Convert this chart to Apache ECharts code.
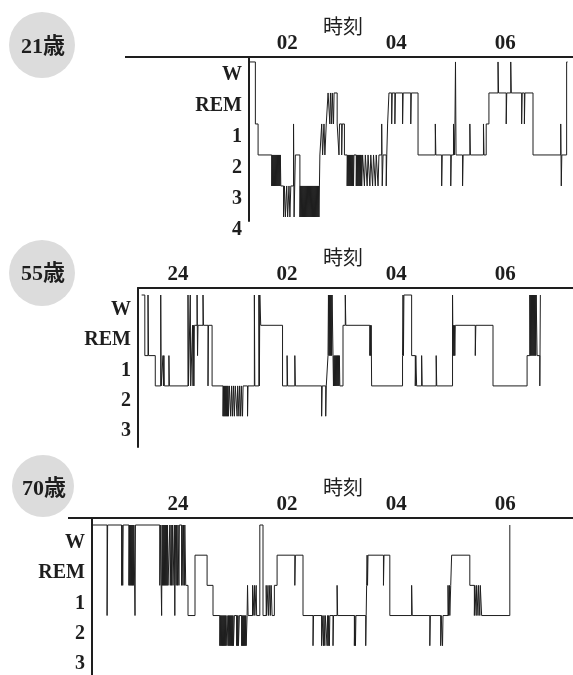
<!DOCTYPE html>
<html>
<head>
<meta charset="utf-8">
<title>睡眠経過図</title>
<script src="https://cdn.jsdelivr.net/npm/echarts@6/dist/echarts.min.js"></script>
<style>
  html, body {margin: 0; padding: 0; background: #fff;}
  #main {width: 573px; height: 675px;}
</style>
</head>
<body>
<div id="main"></div>
<script>
// 時刻は 0時からの分 (負 = 24時前)、段階は 0=W 1=REM 2=1 3=2 4=3 5=4
var xTicks = [0, 120, 240, 360];
var xTickLabels = ["24", "02", "04", "06"];
var stageLabels21 = ["W", "REM", "1", "2", "3", "4"];
var stageLabels = ["W", "REM", "1", "2", "3"];
var ages = ["21歳", "55歳", "70歳"];

var hyp21 = [
  [79,0],[85,2],[88,3],
  [103,4],[103.5,3],[104,4],[104.5,3],[105,4],[105.5,3],[106,4],[106.5,3],[107,4],[107.5,3],[108,4],[108.5,3],
  [109,4],[109.5,3],[110,4],[110.5,3],[111,4],[111.5,3],[112,4],[112.5,3],[113,4],
  [116,5],[117,4],[118,5],[119.5,4],[120.5,5],[122,4],[123,5],[124,4],
  [127,2],[127.6,5],[129,3],
  [134,5],[134.5,4],[135,5],[135.5,4],[136,5],[136.5,4],[137,5],[137.5,4],[138,5],[138.5,4],[139,5],[139.5,4],
  [140,5],[140.5,4],[141,5],[141.5,4],[142,5],[142.5,4],[143,5],[143.5,4],[144,5],[144.5,4],[145,5],[145.5,4],
  [146,5],[146.5,4],[147,5],[147.5,4],[148,5],[148.5,4],[149,5],[149.5,4],[150,5],[150.5,4],[151,5],[151.5,4],
  [152,5],[152.5,4],[153,5],[153.5,4],[154,5],[154.5,4],[155,5],[155.5,4],
  [156,3],[158,2],[159,3],[160.5,2],[161.5,3],[163,2],
  [165,1],[167,2],[167.6,1],[169,2],[169.6,1],[171,2],[171.6,1],
  [175,2],[177,3],[177.6,2],[180,3],[180.6,2],[183,3],
  [186,4],[186.5,3],[187,4],[187.5,3],[188,4],[188.5,3],[189,4],[189.5,3],[190,4],[190.5,3],[191,4],[191.5,3],
  [192,4],[192.5,3],[193,4],[193.5,3],
  [196,4],[196.5,3],[197,4],[197.5,3],[198,4],[198.5,3],[199,4],[199.5,3],[200,4],[200.5,3],[201,4],[201.5,3],
  [202,4],[203,3],
  [205,4],[206,3],[208,4],[209,3],[211,4],[212,3],[214,4],[215,3],[217,4],[218,3],[220,4],[221,3],
  [224,2],[224.6,4],[225.5,3],[229,4],[229.6,3],[230.5,2],
  [232,1],[235,2],[235.6,1],[238.5,2],[239.1,1],[247,2],[247.6,1],[256,2],[256.6,1],
  [264,3],[283,2],[283.6,3],[290,4],[290.6,3],[300,4],[300.6,3],
  [303,2],[304,3],[304.6,2],[305.2,0],[305.8,3],[313,4],[313.6,3],[321,2],[321.6,3],
  [336,2],[336.6,3],[339,2],
  [342,1],[352,0],[352.6,1],[361,2],[361.6,1],[366,0],[366.6,1],[378,2],[378.6,1],[381,2],[381.6,1],
  [390.5,3],[421,2],[421.6,4],[422.2,3],[427.5,0],[428.5,0]
];

var hyp55 = [
  [-40,0],[-36.5,2],[-33,0],[-32.4,2],[-25,3],
  [-19,0],[-18.5,3],[-16.5,2],[-16,3],[-15.5,2],[-15,3],[-10,2],[-9.5,3],
  [11,0],[11.5,3],[13.5,0],[14,3],[16,1],[16.5,3],[17,1],[17.5,3],[18,1],
  [21,0],[21.5,2],[22,1],[27.5,0],[28,1],[33,3],[33.5,1],[37.5,3],
  [49.5,4],[50,3],[50.5,4],[51,3],[51.5,4],[52,3],[52.5,4],[53,3],[53.5,4],[54,3],[54.5,4],[55,3],[55.5,4],[56.5,3],
  [58,4],[59,3],[60,4],[61,3],[62,4],[63,3],
  [65,4],[65.6,3],[67,4],[67.6,3],[69,4],[69.6,3],[71,4],[71.6,3],[76.5,4],[77,3],
  [84,0],[84.5,3],[89,0],[89.5,3],[90,0],
  [91,1],[115,3],[120,2],[120.6,3],[128.5,2],[129.1,3],
  [158,4],[158.6,3],[162.5,4],[163.1,3],
  [165,2],[165.5,0],[166,2],[166.5,0],[167,2],[167.5,0],[168,2],[168.5,0],[169,2],[169.5,0],
  [170.5,2],[171,3],[171.5,2],[172,3],[172.5,2],[173,3],[173.5,2],[174,3],[174.5,2],[175,3],[175.5,2],[176,3],
  [176.5,2],[177,3],[177.5,2],[178,3],
  [181.5,1],[184,0],[184.6,1],[211,2],[211.5,1],[212,2],[212.5,1],
  [213,3],[247,2],[247.5,0],[248,2],[248.5,0],
  [257,2],[261,3],[261.6,2],[262.5,3],[268,2],[268.6,3],[284,2],[284.6,3],
  [302,0],[302.5,2],[303,1],[303.5,2],[304,1],[304.5,2],[305,1],[327,2],[327.6,1],
  [346.5,3],[384,2],
  [387,0],[387.5,2],[388,0],[388.5,2],[389,0],[389.5,2],[390,0],[390.5,2],[391,0],[391.5,2],
  [392,0],[392.5,2],[393,0],[393.5,2],[394,0],[395,2],
  [398,3],[398.6,0],[399.2,0]
];

var hyp70 = [
  [-94,0],[-78,3],[-77.4,0],[-62,2],[-61.5,0],[-60.8,2],[-60.3,0],
  [-54,2],[-53.5,0],[-53,2],[-52.5,0],[-52,2],[-51.5,0],[-51,2],[-50.5,0],[-50,2],[-49.5,0],[-49,2],[-48.5,0],
  [-47.3,3],[-46.8,0],
  [-20,2],[-19.5,0],[-18,3],[-17.5,0],[-17,2],[-16.5,0],[-16,2],[-15.5,0],[-15,2],[-14.5,0],[-14,2],[-13.5,0],
  [-13,2],[-12.5,0],[-12,2],[-11.5,0],[-11,2],[-9,0],[-8.5,2],[-7.5,0],[-7,2],[-6,0],[-5.5,2],
  [-4,0],[-3.5,3],[-3,0],[-2,2],[-1.5,0],[-0.5,2],[0,0],[1,2],[1.5,0],[4,2],[4.5,0],[5.5,2],[6,0],[7,2],[7.5,0],
  [8.5,2],[11,3],[18.7,1],[32,2],[38.5,3],
  [46,4],[46.5,3],[47,4],[47.5,3],[48,4],[48.5,3],[49,4],[49.5,3],[50,4],[50.5,3],[51,4],[51.5,3],[52,4],[52.5,3],
  [53,4],[54,3],
  [55,4],[55.5,3],[56,4],[56.5,3],[57,4],[57.5,3],[58,4],[58.5,3],[59,4],[59.5,3],[60,4],[60.5,3],[61,4],[62,3],
  [64.5,4],[65,3],[65.5,4],[66,3],[66.5,4],[67.5,3],
  [70,4],[70.5,3],[71,4],[71.5,3],[72,4],[72.5,3],[73,4],[73.5,3],[74,4],[74.5,3],[75,4],[76,3],
  [76.5,2],[77.1,3],[82,2],[82.5,3],[84,2],[84.5,3],[86,2],[86.5,3],
  [90,0],[93.5,3],[97,2],[97.5,3],[99,2],[99.5,3],[101,2],[101.5,3],[102.5,2],[103.5,3],[106,2],
  [109,1],[128.5,2],[129.1,1],[137.5,3],
  [148.5,4],[149.1,3],[158,4],[158.5,3],[160,4],[160.5,3],[161.5,4],[162,3],
  [164,4],[164.5,3],[165.2,4],[165.7,3],[166.5,4],[167,3],[170.5,4],[171.1,3],[175,2],[175.6,3],
  [194,4],[194.5,3],[195.2,4],[195.7,3],[206.5,4],[207,3],[207.5,2],[208,1],[208.5,2],[209,1],
  [226,2],[226.6,1],[233,3],[257,2],[257.6,3],[277,4],[277.6,3],
  [289,4],[289.5,3],[291,4],[291.5,3],[297,2],[297.5,3],[298.5,2],[299,3],[300,2],
  [301,1],[321,2],[326,3],[326.5,2],[328,3],[328.5,2],[330,3],[330.5,2],[332,3],[332.5,2],
  [334,3],[365,0],[365.5,0]
];

var serif = '"Liberation Serif", "DejaVu Serif", serif';
var ink = "#1e1e1e";

function make_panel(i, left, top, height, xmin, ymin, ymax, labels, pad) {
  var vals = labels.map(function (a, k) { return k; });
  return {
    grid: {left: left, right: 0, top: top, height: height},
    xAxis: {
      gridIndex: i, type: "value", position: "top", min: xmin, max: 434.5,
      axisLine: {onZero: false, lineStyle: {color: ink, width: 2}},
      axisTick: {show: false}, splitLine: {show: false},
      axisLabel: {
        customValues: xTicks,
        formatter: function (v) { return xTickLabels[xTicks.indexOf(v)]; },
        fontFamily: serif, fontSize: 21, fontWeight: "bold", color: ink, margin: 3
      }
    },
    yAxis: {
      gridIndex: i, type: "value", inverse: true, min: ymin, max: ymax,
      axisLine: {show: true, onZero: false, lineStyle: {color: ink, width: 2}},
      axisTick: {show: false}, splitLine: {show: false},
      axisLabel: {
        customValues: vals,
        formatter: function (v) { return labels[v]; },
        fontFamily: serif, fontSize: 20, fontWeight: "bold", color: ink, margin: 7,
        verticalAlign: "top", padding: [pad, 0, 0, 0]
      }
    }
  };
}

var panels = [
  make_panel(0, 249, 57, 164, 78, -0.16, 5.13, stageLabels21, 3),
  make_panel(1, 138, 288, 159, -44, -0.231, 5.016, stageLabels, 5),
  make_panel(2, 92, 518, 157, -94.6, -0.232, 4.97, stageLabels, 8)
];
var data = [hyp21, hyp55, hyp70];

function circle_label(cx, cy, r, txt, ty) {
  return [
    {type: "circle", shape: {cx: cx, cy: cy, r: r}, style: {fill: "#dcdcdc"}},
    {type: "text", style: {text: txt, x: cx + 1, y: ty, fill: ink, textAlign: "center", textVerticalAlign: "middle",
      font: 'bold 22px "Liberation Serif", "Noto Sans CJK JP"'}}
  ];
}
function time_title(y) {
  return {type: "text", style: {text: "時刻", x: 343, y: y, fill: ink, textAlign: "center", textVerticalAlign: "middle",
    font: '20px "Noto Sans CJK JP"'}};
}

var graphics = []
  .concat(circle_label(42, 45, 33, ages[0], 47))
  .concat(circle_label(42, 273, 33, ages[1], 274))
  .concat(circle_label(43, 486, 31, ages[2], 489))
  .concat([time_title(26), time_title(257), time_title(487),
    {type: "line", shape: {x1: 125, y1: 57, x2: 249, y2: 57}, style: {stroke: ink, lineWidth: 2}},
    {type: "line", shape: {x1: 68, y1: 518, x2: 92, y2: 518}, style: {stroke: ink, lineWidth: 2}}]);

var chart = echarts.init(document.getElementById("main"));
var option = {
  animation: false,
  backgroundColor: "#fff",
  grid: panels.map(function (p) { return p.grid; }),
  xAxis: panels.map(function (p) { return p.xAxis; }),
  yAxis: panels.map(function (p) { return p.yAxis; }),
  series: data.map(function (d, i) {
    return {
      type: "line", xAxisIndex: i, yAxisIndex: i, step: "end", symbol: "none",
      lineStyle: {color: ink, width: 1}, data: d
    };
  }),
  graphic: graphics
};
chart.setOption(option);
</script>
</body>
</html>
